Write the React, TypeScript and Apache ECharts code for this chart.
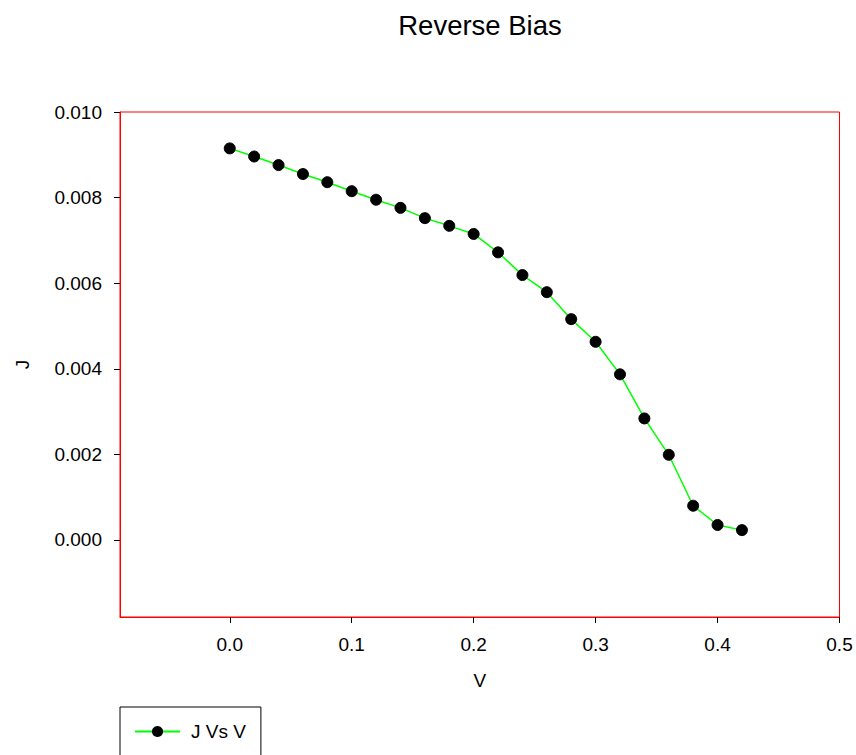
import React, { useEffect, useRef } from "react";
import * as echarts from "echarts";

const vValues = [0.0, 0.02, 0.04, 0.06, 0.08, 0.1, 0.12, 0.14, 0.16, 0.18, 0.2, 0.22, 0.24, 0.26, 0.28, 0.3, 0.32, 0.34, 0.36, 0.38, 0.4, 0.42];
const jValues = [0.00915, 0.00896, 0.00876, 0.00855, 0.00836, 0.00815, 0.00795, 0.00776, 0.00752, 0.00734, 0.00715, 0.00672, 0.00619, 0.00579, 0.00516, 0.00463, 0.00387, 0.00284, 0.00199, 0.0008, 0.00035, 0.00023];
const xTicks = [0, 0.1, 0.2, 0.3, 0.4, 0.5];
const yTicks = [0, 0.002, 0.004, 0.006, 0.008, 0.01];
const seriesName = "J Vs V";
const FONT = "'Liberation Sans', Arial, sans-serif";

export default function App() {
  const ref = useRef<HTMLDivElement>(null);
  useEffect(() => {
    if (!ref.current) return;
    const chart = echarts.init(ref.current, null, { renderer: "svg" });
    const data = vValues.map((v, i) => [v, jValues[i]]);
    chart.setOption({
      animation: false,
      backgroundColor: "#ffffff",
      textStyle: { fontFamily: FONT },
      title: {
        text: "Reverse Bias",
        left: 475,
        top: 6,
        textAlign: "center",
        textStyle: { fontFamily: FONT, fontSize: 27.5, fontWeight: "normal", color: "#000" },
      },
      legend: {
        left: 120,
        top: 707,
        orient: "vertical",
        padding: [15, 15, 25, 14],
        borderColor: "#000",
        borderWidth: 1,
        itemWidth: 45,
        itemHeight: 14,
        data: [seriesName],
        textStyle: { fontFamily: FONT, fontSize: 19, color: "#000", padding: [0, 0, 0, 6] },
      },
      grid: {
        left: 120,
        right: 16.5,
        top: 112,
        bottom: 138,
        show: true,
        borderColor: "#ff0000",
        borderWidth: 1,
        containLabel: false,
      },
      xAxis: {
        type: "value",
        min: -0.09,
        max: 0.5,
        name: "V",
        nameLocation: "middle",
        nameGap: 54,
        nameTextStyle: { fontFamily: FONT, fontSize: 19, color: "#000" },
        splitLine: { show: false },
        axisLine: { show: true, onZero: false, lineStyle: { color: "#ff0000", width: 1 } },
        axisTick: { show: true, inside: false, length: 6, customValues: xTicks, lineStyle: { color: "#000", width: 1 } },
        axisLabel: {
          customValues: xTicks,
          margin: 18,
          fontFamily: FONT,
          fontSize: 19,
          color: "#000",
          formatter: (v: number) => v.toFixed(1),
        },
      },
      yAxis: {
        type: "value",
        min: -0.0018,
        max: 0.01,
        name: "J",
        nameLocation: "middle",
        nameGap: 88,
        nameTextStyle: { fontFamily: FONT, fontSize: 19, color: "#000" },
        splitLine: { show: false },
        axisLine: { show: true, onZero: false, lineStyle: { color: "#ff0000", width: 1 } },
        axisTick: { show: true, inside: false, length: 6, customValues: yTicks, lineStyle: { color: "#000", width: 1 } },
        axisLabel: {
          customValues: yTicks,
          margin: 18,
          fontFamily: FONT,
          fontSize: 19,
          color: "#000",
          formatter: (v: number) => v.toFixed(3),
        },
      },
      series: [
        {
          name: seriesName,
          type: "line",
          data,
          symbol: "circle",
          symbolSize: 11,
          showAllSymbol: true,
          lineStyle: { color: "#00ff00", width: 1.5 },
          itemStyle: { color: "#000", borderColor: "#000" },
          color: "#00ff00",
          emphasis: { disabled: true },
        },
      ],
    });
    return () => chart.dispose();
  }, []);
  return <div ref={ref} style={{ width: 856, height: 755, position: "absolute", left: 0, top: 0 }} />;
}
